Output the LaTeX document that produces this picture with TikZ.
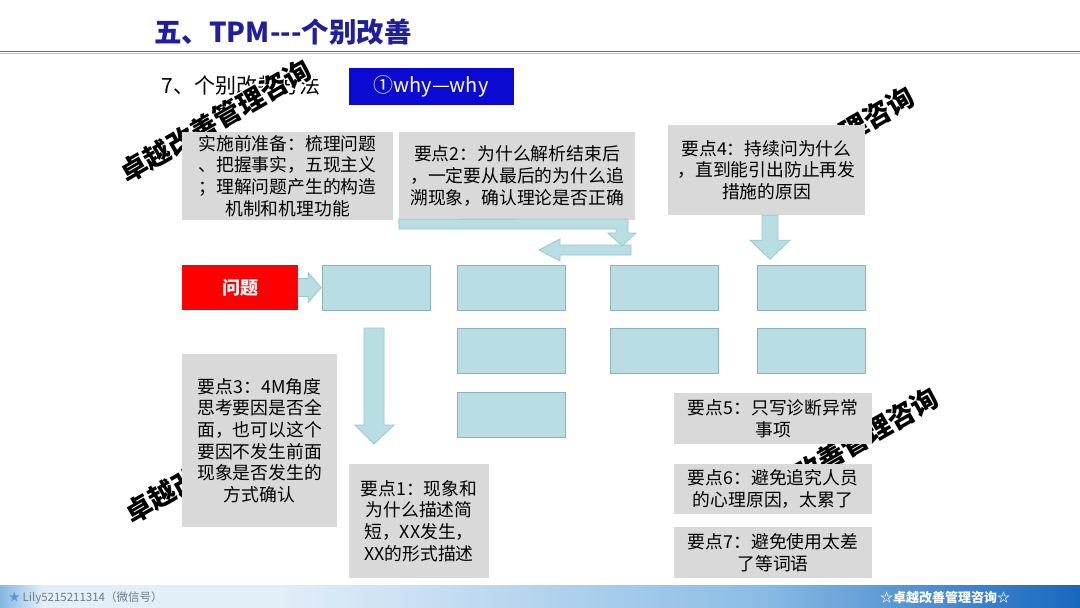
\documentclass[tikz,border=0pt]{standalone}
\usepackage{fontspec}
\setmainfont{Noto Sans CJK SC}
\usepackage[copies]{contour}
\contourlength{1.3pt}
\definecolor{titleblue}{HTML}{1F1F9E}
\definecolor{sepdark}{HTML}{76656A}
\definecolor{seplight}{HTML}{D6B3B9}
\definecolor{whyblue}{HTML}{0A0AD2}
\definecolor{boxgray}{HTML}{D9D9D9}
\definecolor{cyanfill}{HTML}{B8DEE4}
\definecolor{cyanedge}{HTML}{8FB2B7}
\definecolor{arrowedge}{HTML}{9CC6CD}
\definecolor{probred}{HTML}{FF0000}
\definecolor{barA}{HTML}{86B8E2}
\definecolor{barB}{HTML}{E2EEF8}
\definecolor{barC}{HTML}{8CBDE5}
\definecolor{barD}{HTML}{1767BF}
\definecolor{footgray}{HTML}{6F7C88}
\pgfdeclarehorizontalshading{barshade}{100bp}{color(0bp)=(barA); color(25bp)=(barA); color(27bp)=(barB); color(38bp)=(barB); color(60bp)=(barC); color(75bp)=(barD); color(100bp)=(barD)}
\begin{document}
\begin{tikzpicture}[x=1pt,y=-1pt,
  graybox/.style={fill=boxgray, inner sep=0pt, align=center, font=\fontsize{17.8}{21.7}\selectfont},
  cyanbox/.style={fill=cyanfill, draw=cyanedge, line width=0.9pt, inner sep=0pt, minimum width=108pt, minimum height=45pt},
  blockarrow/.style={fill=cyanfill, draw=arrowedge, line width=0.8pt},
  wmark/.style={rotate=30, inner sep=0pt, font=\fontsize{27}{27}\selectfont\bfseries, text=black}]
\useasboundingbox (0,0) rectangle (1080,608);
\fill[white] (0,0) rectangle (1080,608);

% header
\node[font=\fontsize{27.5}{27.5}\selectfont\bfseries, text=titleblue] (title) at (283,32) {五、TPM-{}-{}-个别改善};
\draw[sepdark, line width=1.8pt] (0,51.5) -- (1080,51.5);
\draw[seplight, line width=0.8pt] (0,53.2) -- (1080,53.2);
\node[font=\fontsize{21}{21}\selectfont] (sub) at (241,85) {7、个别改善方法};
\node[fill=whyblue, minimum width=165pt, minimum height=37pt, inner sep=0pt, text=white, font=\fontsize{20}{20}\selectfont] (why) at (431,86.5) {①why—why};

% watermarks
\node[wmark] (wm1) at (216,121.5) {\contour{white}{卓越改善管理咨询}};
\node[wmark] (wm2) at (819,149) {\contour{white}{卓越改善管理咨询}};
\node[wmark] (wm3) at (843,450) {\contour{white}{卓越改善管理咨询}};
\node[wmark] (wm4) at (221,462) {\contour{white}{卓越改善管理咨询}};

% gray note boxes
\node[graybox, minimum width=211pt, minimum height=88pt] (prep) at (287.5,176) {实施前准备：梳理问题\\、把握事实，五现主义\\；理解问题产生的构造\\机制和机理功能};
\node[graybox, minimum width=236pt, minimum height=88pt] (k2) at (517,176) {要点2：为什么解析结束后\\，一定要从最后的为什么追\\溯现象，确认理论是否正确};
\node[graybox, minimum width=197pt, minimum height=90pt] (k4) at (766.5,170) {要点4：持续问为什么\\，直到能引出防止再发\\措施的原因};
\node[graybox, minimum width=155pt, minimum height=173pt] (k3) at (259.5,440.5) {要点3：4M角度\\思考要因是否全\\面，也可以这个\\要因不发生前面\\现象是否发生的\\方式确认};
\node[graybox, minimum width=140pt, minimum height=114pt] (k1) at (419,521) {要点1：现象和\\为什么描述简\\短，XX发生，\\XX的形式描述};
\node[graybox, minimum width=198pt, minimum height=51pt] (k5) at (773,418.5) {要点5：只写诊断异常\\事项};
\node[graybox, minimum width=198pt, minimum height=50pt] (k6) at (773,489) {要点6：避免追究人员\\的心理原因，太累了};
\node[graybox, minimum width=198pt, minimum height=51pt] (k7) at (773,552.5) {要点7：避免使用太差\\了等词语};

% problem box
\node[fill=probred, minimum width=116pt, minimum height=45pt, inner sep=0pt, text=white, font=\fontsize{18}{18}\selectfont\bfseries] (prob) at (240,287.5) {问题};

% why boxes
\node[cyanbox] (a1) at (376.5,287.5) {};
\node[cyanbox] (b1) at (511,287.5) {};
\node[cyanbox] (c1) at (664,287.5) {};
\node[cyanbox] (d1) at (811.5,287.5) {};
\node[cyanbox] (b2) at (511,351) {};
\node[cyanbox] (c2) at (664,351) {};
\node[cyanbox] (d2) at (811.5,351) {};
\node[cyanbox] (b3) at (511,415) {};

% block arrows
\filldraw[blockarrow, shift={(prob.east)}] (0,-9) -- (10,-9) -- (10,-15) -- (23,0) -- (10,15) -- (10,9) -- (0,9) -- cycle;
\filldraw[blockarrow] (364,328) -- (384,328) -- (384,425) -- (394,425) -- (374,444) -- (355,425) -- (364,425) -- cycle;
\filldraw[blockarrow, shift={(k4.south)}] (-4.5,0) -- (11.5,0) -- (11.5,25) -- (23.5,25) -- (3.5,44) -- (-16.5,25) -- (-4.5,25) -- cycle;
\filldraw[blockarrow] (631,245) -- (560,245) -- (560,239) -- (539,250) -- (560,261) -- (560,255) -- (631,255) -- cycle;
\filldraw[blockarrow] (k2.south west) ++(0,-1) -- (628,219) -- (628,233) -- (636,233) -- (622,246) -- (608,233) -- (616,233) -- (616,229) -- (399,229) -- cycle;

% footer bar
\shade[shading=barshade] (0,585) rectangle (1080,608);
\node[anchor=west, font=\fontsize{11.5}{11.5}\selectfont, text=footgray] (foot1) at (5,598) {\textcolor{barD!70}{★} Lily5215211314（微信号）};
\node[font=\fontsize{13}{13}\selectfont\bfseries, text=white] (foot2) at (945,598) {☆卓越改善管理咨询☆};
\end{tikzpicture}
\end{document}
